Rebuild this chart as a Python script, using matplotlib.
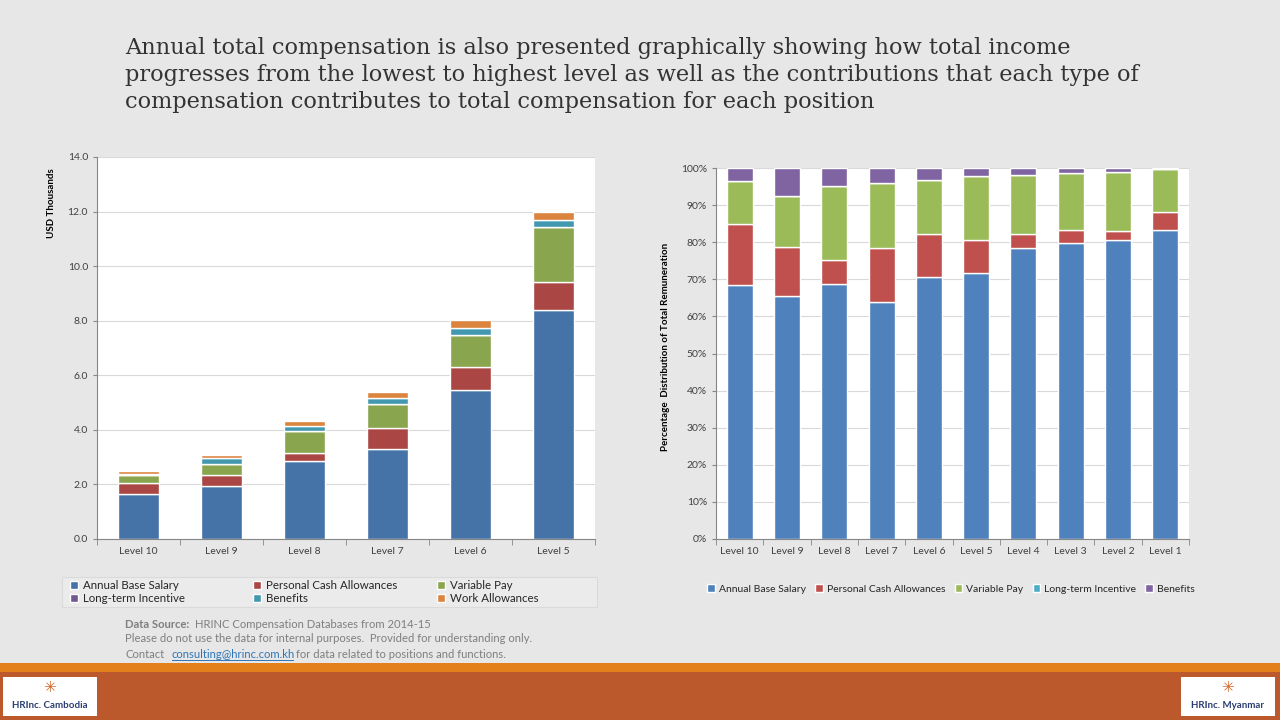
import numpy as np
import matplotlib.pyplot as plt
from matplotlib.patches import Rectangle
from matplotlib.lines import Line2D

plt.rcParams['font.family'] = ['Lato', 'DejaVu Sans']

# left chart: annual total compensation, USD thousands
levels_left = ['Level 10', 'Level 9', 'Level 8', 'Level 7', 'Level 6', 'Level 5']
base_usd = [1.65, 1.94, 2.87, 3.31, 5.45, 8.38]
personal_usd = [0.41, 0.41, 0.29, 0.77, 0.87, 1.03]
variable_usd = [0.27, 0.41, 0.80, 0.88, 1.14, 2.02]
lti_usd = [0, 0, 0, 0, 0, 0]
benefits_usd = [0.07, 0.22, 0.19, 0.22, 0.26, 0.26]
work_usd = [0.09, 0.10, 0.18, 0.21, 0.32, 0.30]

names_left = ['Annual Base Salary', 'Personal Cash Allowances', 'Variable Pay',
              'Long-term Incentive', 'Benefits', 'Work Allowances']
colors_left = ['#4572A7', '#AA4643', '#89A54E', '#71588F', '#4198AF', '#DB843D']

# right chart: percentage distribution
levels_right = ['Level 10', 'Level 9', 'Level 8', 'Level 7', 'Level 6',
                'Level 5', 'Level 4', 'Level 3', 'Level 2', 'Level 1']
base_pct = [68.4, 65.5, 68.8, 63.9, 70.7, 71.6, 78.5, 79.7, 80.6, 83.3]
personal_pct = [16.5, 13.2, 6.4, 14.5, 11.6, 9.0, 3.8, 3.6, 2.5, 4.9]
variable_pct = [11.6, 13.7, 20.0, 17.6, 14.5, 17.3, 15.9, 15.4, 15.9, 11.6]
lti_pct = [0, 0, 0, 0, 0, 0, 0, 0, 0, 0]
benefits_pct = [3.5, 7.6, 4.8, 4.0, 3.2, 2.1, 1.8, 1.3, 1.0, 0.2]

names_right = ['Annual Base Salary', 'Personal Cash Allowances', 'Variable Pay',
               'Long-term Incentive', 'Benefits']
colors_right = ['#4F81BD', '#C0504D', '#9BBB59', '#4BACC6', '#8064A2']

W, H = 1280, 720
fig = plt.figure(figsize=(12.8, 7.2), dpi=100)
fig.patch.set_facecolor('#E7E7E7')

# footer bands
fig.add_artist(Rectangle((0, 0), 1, 48 / H, transform=fig.transFigure,
                         facecolor='#BB582C', edgecolor='none', zorder=0))
fig.add_artist(Rectangle((0, 48 / H), 1, 9 / H, transform=fig.transFigure,
                         facecolor='#E3801C', edgecolor='none', zorder=0))
for lx, txt in [(3, 'Cambodia'), (1181, 'Myanmar')]:
    fig.add_artist(Rectangle((lx / W, 4 / H), 94 / W, 39 / H, transform=fig.transFigure,
                             facecolor='white', edgecolor='none', zorder=1))
    fig.text((lx + 47) / W, 10 / H, 'HRInc. ' + txt, ha='center', va='bottom',
             fontsize=7, color='#2B3E73', fontweight='bold', zorder=2)
    fig.text((lx + 47) / W, 25 / H, '✳', ha='center', va='bottom',
             fontsize=11, color='#D2672A', zorder=2, family='DejaVu Sans')

# title
title_lines = ['Annual total compensation is also presented graphically showing how total income',
               'progresses from the lowest to highest level as well as the contributions that each type of',
               'compensation contributes to total compensation for each position']
for i, line in enumerate(title_lines):
    fig.text(125 / W, 1 - (48 + 27 * i) / H, line, ha='left', va='center',
             fontsize=16.2, color='#333333', family='DejaVu Serif')

tick_col = '#404040'
grid_col = '#D9D9D9'
spine_col = '#868686'


def style_axis(ax, n):
    ax.set_facecolor('white')
    ax.set_xlim(-0.5, n - 0.5)
    ax.set_xticks(np.arange(n))
    ax.set_xticks(np.arange(-0.5, n, 1), minor=True)
    ax.tick_params(axis='x', which='major', length=0, labelsize=7.5, colors=tick_col, pad=6)
    ax.tick_params(axis='x', which='minor', length=4, color=spine_col)
    ax.tick_params(axis='y', length=3, color=spine_col, labelsize=7.5, labelcolor=tick_col)
    ax.grid(axis='y', color=grid_col, linewidth=0.8)
    ax.set_axisbelow(True)
    for s in ['top', 'right']:
        ax.spines[s].set_visible(False)
    for s in ['left', 'bottom']:
        ax.spines[s].set_color(spine_col)


# left chart
ax1 = fig.add_axes([97 / W, 1 - 539 / H, 498 / W, 382 / H])
x1 = np.arange(len(levels_left))
bottom = np.zeros(len(x1))
handles_left = []
for name, vals, col in zip(names_left,
                           [base_usd, personal_usd, variable_usd, lti_usd, benefits_usd, work_usd],
                           colors_left):
    b = ax1.bar(x1, vals, 0.5, bottom=bottom, color=col, edgecolor='white', linewidth=1, label=name)
    handles_left.append(b)
    bottom += np.array(vals)
style_axis(ax1, len(levels_left))
ax1.set_xticklabels(levels_left)
ax1.set_ylim(0, 14)
ax1.set_yticks(np.arange(0, 14.1, 2))
ax1.set_yticklabels(['%.1f' % v for v in np.arange(0, 14.1, 2)])
fig.text(52 / W, 1 - 203 / H, 'USD Thousands', rotation=90, ha='center', va='center',
         fontsize=7, fontweight='bold', color='black')

# left legend: faint box with three columns
fig.add_artist(Rectangle((62 / W, 1 - 607 / H), 535 / W, 30 / H, transform=fig.transFigure,
                         facecolor='#EBEBEB', edgecolor='#DADADA', linewidth=0.8, zorder=1))
for c, cx in enumerate([70, 253, 437]):
    idx = [c, c + 3]
    leg = fig.legend([handles_left[i] for i in idx], [names_left[i] for i in idx],
                     loc='center left', bbox_to_anchor=(cx / W, 1 - 592 / H),
                     ncol=1, fontsize=8.3, frameon=False,
                     handlelength=0.7, handleheight=0.7, handletextpad=0.4,
                     borderpad=0.0, labelspacing=0.15, borderaxespad=0)
    for t in leg.get_texts():
        t.set_color('#262626')

# right chart
ax2 = fig.add_axes([716 / W, 1 - 539 / H, 473 / W, 371 / H])
x2 = np.arange(len(levels_right))
bottom = np.zeros(len(x2))
handles_right = []
for name, vals, col in zip(names_right,
                           [base_pct, personal_pct, variable_pct, lti_pct, benefits_pct],
                           colors_right):
    b = ax2.bar(x2, vals, 0.55, bottom=bottom, color=col, edgecolor='white', linewidth=1, label=name)
    handles_right.append(b)
    bottom += np.array(vals)
style_axis(ax2, len(levels_right))
ax2.set_xticklabels(levels_right)
ax2.set_ylim(0, 100)
ax2.set_yticks(np.arange(0, 101, 10))
ax2.set_yticklabels(['%d%%' % v for v in np.arange(0, 101, 10)])
fig.text(666 / W, 1 - 347 / H, 'Percentage  Distribution of Total Remuneration', rotation=90,
         ha='center', va='center', fontsize=7, fontweight='bold', color='black')

leg2 = fig.legend(handles_right, names_right, loc='center', bbox_to_anchor=(951 / W, 1 - 589 / H),
                  ncol=5, fontsize=7.5, frameon=False, handlelength=0.7, handleheight=0.7,
                  handletextpad=0.4, columnspacing=0.9)
for t in leg2.get_texts():
    t.set_color('#262626')

# data source notes
note_col = '#7F7F7F'
fs = 8.1
fig.text(125 / W, 1 - 624 / H, 'Data Source:', fontsize=fs, fontweight='bold',
         color=note_col, va='center')
fig.text(195 / W, 1 - 624 / H, 'HRINC Compensation Databases from 2014-15', fontsize=fs,
         color=note_col, va='center')
fig.text(125 / W, 1 - 639 / H,
         'Please do not use the data for internal purposes.  Provided for understanding only.',
         fontsize=fs, color=note_col, va='center')
fig.text(125 / W, 1 - 654 / H, 'Contact', fontsize=fs, color=note_col, va='center')
fig.text(172 / W, 1 - 654 / H, 'consulting@hrinc.com.kh', fontsize=fs, color='#2E75B6',
         va='center')
fig.add_artist(Line2D([172 / W, 293 / W], [1 - 660 / H, 1 - 660 / H], transform=fig.transFigure,
                      color='#2E75B6', linewidth=0.7))
fig.text(296 / W, 1 - 654 / H, 'for data related to positions and functions.', fontsize=fs,
         color=note_col, va='center')

fig.savefig('out.png', dpi=100, facecolor=fig.get_facecolor())
